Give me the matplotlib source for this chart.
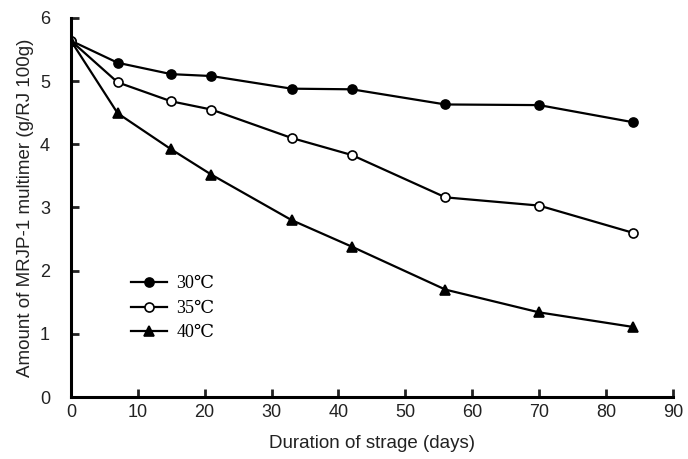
import matplotlib
matplotlib.use("Agg")
import matplotlib.pyplot as plt

days = [0, 7, 15, 21, 33, 42, 56, 70, 84]
t30 = [5.64, 5.29, 5.11, 5.08, 4.88, 4.87, 4.63, 4.62, 4.35]
t35 = [5.64, 4.98, 4.68, 4.55, 4.10, 3.83, 3.16, 3.03, 2.60]
t40 = [5.64, 4.49, 3.92, 3.52, 2.80, 2.38, 1.70, 1.34, 1.11]
labels = ["30\u2103", "35\u2103", "40\u2103"]

plt.rcParams['font.family'] = ['Liberation Sans', 'DejaVu Sans']

fig = plt.figure(figsize=(6.88, 4.59), dpi=100)
ax = fig.add_axes([0.103, 0.135, 0.875, 0.826])

style = dict(color='black', lw=1.6, ms=6.5, mew=1.2)
ax.plot(days, t30, marker='o', mfc='black', label=labels[0], **style)
ax.plot(days, t35, marker='o', mfc='white', label=labels[1], **style)
ax.plot(days, t40, marker='^', mfc='black', label=labels[2], **style)

ax.set_xlim(0, 90)
ax.set_ylim(0, 6)
ax.set_xticks(range(0, 91, 10))
ax.set_yticks(range(0, 7))

for s in ['top', 'right']:
    ax.spines[s].set_visible(False)
for s in ['left', 'bottom']:
    ax.spines[s].set_linewidth(2.2)

ax.tick_params(direction='in', length=6, width=2, labelsize=13, pad=5, colors='#222222')
ax.tick_params(axis='y', pad=15)
ax.set_xlabel("Duration of strage (days)", fontsize=13.5, labelpad=10, color='#222222')
ax.set_ylabel("Amount of MRJP-1 multimer (g/RJ 100g)", fontsize=13.5, labelpad=4,
              color='#222222')

ax.legend(loc='upper left', bbox_to_anchor=(0.085, 0.345), frameon=False,
          handlelength=2.0, handletextpad=0.5, labelspacing=0.42, borderpad=0,
          prop={'family': ['Liberation Serif', 'DejaVu Serif'], 'size': 13})

fig.savefig("out.png", dpi=100)
